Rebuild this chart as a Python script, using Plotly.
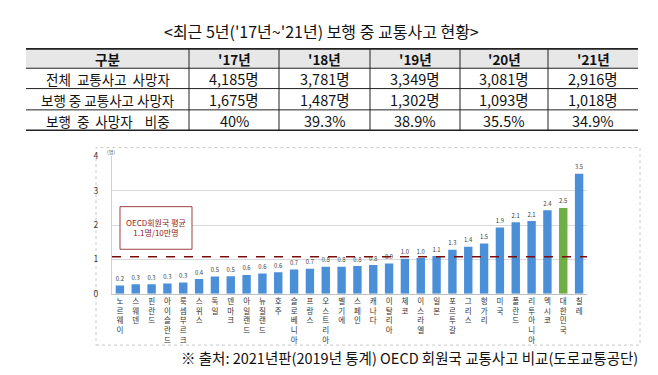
import plotly.graph_objects as go

W, H = 658, 375
FONT = "Noto Sans CJK KR"

# ---- data ----
title = "<최근 5년('17년~'21년) 보행 중 교통사고 현황>"
table_header = ["구분", "'17년", "'18년", "'19년", "'20년", "'21년"]
row_labels = ["전체  교통사고  사망자", "보행 중 교통사고 사망자", "보행  중  사망자    비중"]
total_deaths = ["4,185명", "3,781명", "3,349명", "3,081명", "2,916명"]
ped_deaths = ["1,675명", "1,487명", "1,302명", "1,093명", "1,018명"]
ped_share = ["40%", "39.3%", "38.9%", "35.5%", "34.9%"]

countries = ["노르웨이", "스웨덴", "핀란드", "아이슬란드", "룩셈부르크", "스위스", "독일", "덴마크",
             "아일랜드", "뉴질랜드", "호주", "슬로베니아", "프랑스", "오스트리아", "벨기에", "스페인",
             "캐나다", "이탈리아", "체코", "이스라엘", "일본", "포르투갈", "그리스", "헝가리", "미국",
             "폴란드", "리투아니아", "멕시코", "대한민국", "칠레"]
values = [0.24, 0.28, 0.28, 0.30, 0.33, 0.43, 0.50, 0.51, 0.55, 0.59, 0.63, 0.71, 0.73, 0.79,
          0.79, 0.81, 0.84, 0.88, 1.02, 1.04, 1.10, 1.28, 1.37, 1.46, 1.93, 2.08, 2.12, 2.43,
          2.50, 3.49]
value_labels = ["0.2", "0.3", "0.3", "0.3", "0.3", "0.4", "0.5", "0.5", "0.6", "0.6", "0.6", "0.7",
                "0.7", "0.8", "0.8", "0.8", "0.8", "0.9", "1.0", "1.0", "1.1", "1.3", "1.4", "1.5",
                "1.9", "2.1", "2.1", "2.4", "2.5", "3.5"]
oecd_avg = 1.08
oecd_text = "OECD회원국 평균<br>1.1명/10만명"
source = "※ 출처: 2021년판(2019년 통계) OECD 회원국 교통사고 비교(도로교통공단)"

# ---- helpers: pixel -> paper ----
def px(x):
    return x / W

def py(y):
    return 1 - y / H

BLUE = "#4A8FD8"
GREEN = "#6FAD45"
colors = [GREEN if c == "대한민국" else BLUE for c in countries]
tick_text = ["<br>".join(list(c)) for c in countries]

fig = go.Figure()
fig.add_trace(go.Bar(
    x=countries, y=values, marker_color=colors, marker_line_width=0,
    text=value_labels, textposition="outside", cliponaxis=False,
    textfont=dict(size=8.5, color="#404040", family=FONT),
    hoverinfo="skip", showlegend=False,
))

shapes = []
annotations = []

# chart panel frame
shapes.append(dict(type="rect", xref="paper", yref="paper", x0=px(88), x1=px(632),
                   y0=py(341), y1=py(137), line=dict(color="#c8c8c8", width=1, dash="dot"),
                   layer="below"))

# OECD average line
shapes.append(dict(type="line", xref="x domain", yref="y", x0=0, x1=1, y0=oecd_avg, y1=oecd_avg,
                   line=dict(color="#7A0C0C", width=1.5, dash="dash")))

# OECD box
shapes.append(dict(type="rect", xref="paper", yref="paper", x0=px(112), x1=px(184),
                   y0=py(242), y1=py(198), line=dict(color="#9B4040", width=1),
                   fillcolor="white"))
annotations.append(dict(xref="paper", yref="paper", x=px(148), y=py(220), text=oecd_text,
                        showarrow=False, font=dict(size=8, color="#8B1A1A", family=FONT),
                        xanchor="center", yanchor="middle"))

# unit label
annotations.append(dict(xref="paper", yref="paper", x=px(97), y=py(141), text="(명)",
                        showarrow=False, font=dict(size=5, color="#595959", family=FONT),
                        xanchor="left", yanchor="middle"))

# title
annotations.append(dict(xref="paper", yref="paper", x=px(313), y=py(17),
                        text=title.replace("<", "&lt;").replace(">", "&gt;"),
                        showarrow=False, font=dict(size=16, color="#111", family=FONT),
                        xanchor="center", yanchor="middle"))

# ---- table ----
col_edges = [18, 181, 271, 362, 452, 540, 630]
row_edges = [35, 55, 76, 98, 119]
shapes.append(dict(type="rect", xref="paper", yref="paper", x0=px(18), x1=px(630),
                   y0=py(55), y1=py(35), fillcolor="#E7E7E7", line=dict(width=0), layer="below"))
for i, ry in enumerate(row_edges):
    wdt = 1.6 if i in (0, len(row_edges) - 1) else 1
    shapes.append(dict(type="line", xref="paper", yref="paper", x0=px(18), x1=px(630),
                       y0=py(ry), y1=py(ry), line=dict(color="#222", width=wdt)))
for cx in col_edges[1:-1]:
    shapes.append(dict(type="line", xref="paper", yref="paper", x0=px(cx), x1=px(cx),
                       y0=py(35), y1=py(119), line=dict(color="#222", width=1)))

rows = [table_header, [row_labels[0]] + total_deaths, [row_labels[1]] + ped_deaths,
        [row_labels[2]] + ped_share]
for r, row in enumerate(rows):
    yc = (row_edges[r] + row_edges[r + 1]) / 2
    for c, txt in enumerate(row):
        xc = (col_edges[c] + col_edges[c + 1]) / 2
        if r == 0:
            t = "<b>" + txt + "</b>"
            size = 13.5
        else:
            t = txt
            size = 13.5 if c == 0 else 14.5
        annotations.append(dict(xref="paper", yref="paper", x=px(xc), y=py(yc + 0.5), text=t,
                                showarrow=False, font=dict(size=size, color="#111", family=FONT),
                                xanchor="center", yanchor="middle", borderpad=0))

# source
annotations.append(dict(xref="paper", yref="paper", x=px(402), y=py(354), text=source,
                        showarrow=False, font=dict(size=14.5, color="#111", family=FONT),
                        xanchor="center", yanchor="middle"))

fig.update_layout(
    width=W, height=H, margin=dict(l=0, r=0, t=0, b=0),
    paper_bgcolor="white", plot_bgcolor="white",
    bargap=0.47, shapes=shapes, annotations=annotations,
    font=dict(family=FONT),
    xaxis=dict(domain=[px(104), px(579)], tickmode="array", tickvals=countries,
               ticktext=tick_text, tickangle=0, showline=True, linecolor="#bfbfbf",
               linewidth=1, ticks="", tickfont=dict(size=7.5, color="#333", family=FONT),
               showgrid=False, fixedrange=True),
    yaxis=dict(domain=[py(288), py(146)], range=[0, 4], dtick=1, showgrid=True,
               gridcolor="#d9d9d9", gridwidth=1, showline=True, linecolor="#d0d0d0",
               zeroline=False, ticks="", tickfont=dict(size=8.5, color="#404040", family=FONT),
               ticklabelstandoff=11, fixedrange=True),
)

fig.write_html("out.html")
